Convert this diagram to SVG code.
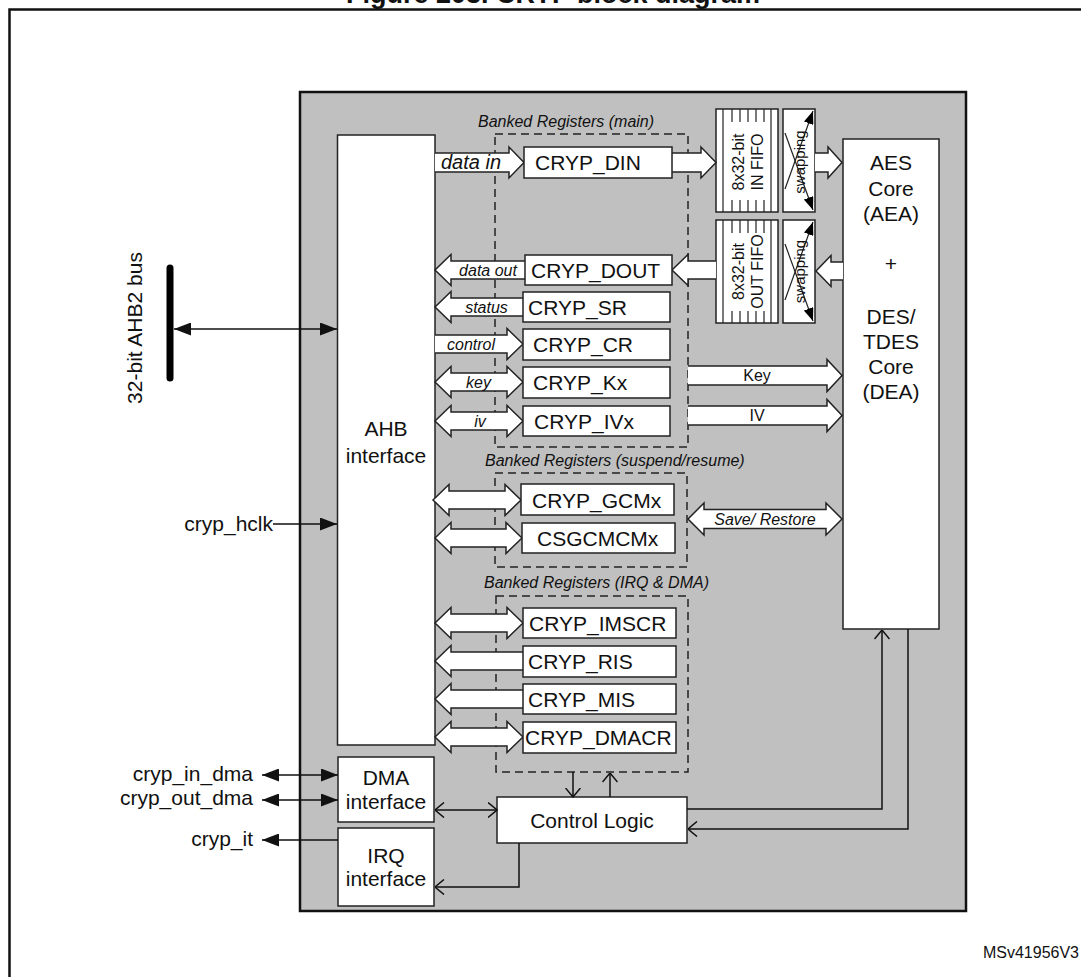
<svg xmlns="http://www.w3.org/2000/svg" width="1081" height="977" viewBox="0 0 1081 977">
<style>
text{font-family:"Liberation Sans",Arial,sans-serif;fill:#111}
.box{fill:#fff;stroke:#222;stroke-width:1.5}
.ba{fill:#fff;stroke:#222;stroke-width:1.5;stroke-linejoin:miter}
.dash{fill:none;stroke:#222;stroke-width:1.5;stroke-dasharray:8 5}
.ln{fill:none;stroke:#111;stroke-width:1.5}
.thin{fill:none;stroke:#222;stroke-width:1.2}
.reg{font-size:21px}
.lbl{font-size:21px}
.it{font-size:16px;font-style:italic}
.sm{font-size:16px}
.mid{text-anchor:middle}
.end{text-anchor:end}
.rot{font-size:16px;text-anchor:middle;dominant-baseline:central}
</style>
<defs>
<marker id="solid" viewBox="0 0 17 13" refX="17" refY="6.5" markerWidth="17" markerHeight="13" markerUnits="userSpaceOnUse" orient="auto-start-reverse"><path d="M0,0 L17,6.5 L0,13 Z" fill="#111"/></marker>
<marker id="open" viewBox="0 0 10 16" refX="9.5" refY="8" markerWidth="10" markerHeight="16" markerUnits="userSpaceOnUse" orient="auto-start-reverse"><path d="M0.5,0.5 L9.5,8 L0.5,15.5" fill="none" stroke="#111" stroke-width="1.5"/></marker>
<marker id="swp" viewBox="0 0 13 10" refX="13" refY="5" markerWidth="13" markerHeight="10" markerUnits="userSpaceOnUse" orient="auto"><path d="M0,0 L13,5 L0,10 Z" fill="#000"/></marker>
</defs>
<rect width="1081" height="977" fill="#fff"/>
<text x="553" y="2.5" class="mid" style="font-size:27px;font-weight:bold">Figure 203. CRYP block diagram</text>
<path d="M9.5,977 V9.5 H1081" fill="none" stroke="#111" stroke-width="2.5"/>

<g id="cryp-block">
<rect x="300" y="92" width="666" height="819" fill="#c0c0c0" stroke="#111" stroke-width="2.5"/>
</g>

<g id="bus-label">
<line x1="170" y1="268" x2="170" y2="378" stroke="#000" stroke-width="7" stroke-linecap="round"/>
<text transform="translate(134,328) rotate(-90)" class="rot" style="font-size:21px">32-bit AHB2 bus</text>
</g>

<g id="ahb-interface">
<rect x="337.5" y="135" width="97.5" height="610" class="box"/>
<text x="386" y="435.5" class="lbl mid">AHB</text>
<text x="386" y="462.5" class="lbl mid">interface</text>
</g>

<g id="dma-interface">
<rect x="338" y="757" width="96" height="65" class="box"/>
<text x="386" y="785" class="lbl mid">DMA</text>
<text x="386" y="809" class="lbl mid">interface</text>
</g>

<g id="irq-interface">
<rect x="338" y="828" width="96" height="78" class="box"/>
<text x="386" y="862.5" class="lbl mid">IRQ</text>
<text x="386" y="885.5" class="lbl mid">interface</text>
</g>

<g id="control-logic">
<rect x="497" y="797" width="190" height="46" class="box"/>
<text x="592" y="827.5" class="lbl mid">Control Logic</text>
</g>

<g id="core">
<rect x="843" y="139" width="96" height="490" class="box"/>
<text x="891" y="170" class="lbl mid">AES</text>
<text x="891" y="195.5" class="lbl mid">Core</text>
<text x="891" y="220.5" class="lbl mid">(AEA)</text>
<text x="891" y="270.5" class="lbl mid">+</text>
<text x="891" y="324" class="lbl mid">DES/</text>
<text x="891" y="349" class="lbl mid">TDES</text>
<text x="891" y="374" class="lbl mid">Core</text>
<text x="891" y="398.5" class="lbl mid">(DEA)</text>
</g>

<g id="in-fifo">
<rect x="716" y="109" width="62" height="103" class="box"/>
<path d="M723,109 V212 M771,109 V212 M732,109 V122 M740,109 V122 M748,109 V122 M756,109 V122 M764,109 V122 M732,200 V212 M740,200 V212 M748,200 V212 M756,200 V212 M764,200 V212" class="thin"/>
<text transform="translate(738,162) rotate(-90)" class="rot">8x32-bit</text>
<text transform="translate(757,162) rotate(-90)" class="rot">IN FIFO</text>
</g>

<g id="in-swap">
<rect x="783" y="109" width="32" height="103" class="box"/>
<line x1="785" y1="133" x2="813" y2="210" class="thin" marker-end="url(#swp)"/>
<line x1="785" y1="189" x2="813" y2="111" class="thin" marker-end="url(#swp)"/>
<text transform="translate(799,162) rotate(-90)" class="rot" style="font-size:15px">swapping</text>
</g>

<g id="out-fifo">
<rect x="716" y="220" width="62" height="103" class="box"/>
<path d="M723,220 V323 M771,220 V323 M732,220 V233 M740,220 V233 M748,220 V233 M756,220 V233 M764,220 V233 M732,311 V323 M740,311 V323 M748,311 V323 M756,311 V323 M764,311 V323" class="thin"/>
<text transform="translate(738,271.5) rotate(-90)" class="rot">8x32-bit</text>
<text transform="translate(757,271.5) rotate(-90)" class="rot">OUT FIFO</text>
</g>

<g id="out-swap">
<rect x="783" y="220" width="32" height="103" class="box"/>
<line x1="785" y1="244" x2="813" y2="321" class="thin" marker-end="url(#swp)"/>
<line x1="785" y1="300" x2="813" y2="222" class="thin" marker-end="url(#swp)"/>
<text transform="translate(799,271.5) rotate(-90)" class="rot" style="font-size:15px">swapping</text>
</g>

<g id="banked-main">
<rect x="495" y="134" width="193" height="313" class="dash"/>
<text x="478" y="126.5" class="it">Banked Registers (main)</text>
</g>
<g id="banked-suspend">
<rect x="495" y="473" width="192" height="94" class="dash"/>
<text x="485" y="466" class="it">Banked Registers (suspend/resume)</text>
</g>
<g id="banked-irq">
<rect x="496" y="596" width="192" height="176" class="dash"/>
<text x="484" y="588" class="it">Banked Registers (IRQ &amp; DMA)</text>
</g>

<g id="connectors">
<!-- block arrows -->
<path d="M435,153 H509 V147 L524,162.5 L509,178 V172 H435" class="ba"/>
<path d="M672,153 H701 V147 L716,162.5 L701,178 V172 H672" class="ba"/>
<path d="M815,153 H828 V147 L842,162.5 L828,178 V172 H815" class="ba"/>
<path d="M843,262 H831 V255.5 L816,271 L831,286.5 V280 H843" class="ba"/>
<path d="M716,261 H688 V254.5 L672,270 L688,285.5 V279 H716" class="ba"/>
<path d="M525,261 H451 V254.5 L435,270 L451,285.5 V279 H525" class="ba"/>
<path d="M523,298 H451 V291.5 L435,307 L451,322.5 V316 H523" class="ba"/>
<path d="M435,335 H507 V328.5 L523,344 L507,359.5 V353 H435" class="ba"/>
<path d="M435,382 L451,366.5 V373 H507 V366.5 L523,382 L507,397.5 V391 H451 V397.5 Z" class="ba"/>
<path d="M435,421 L451,405.5 V412 H507 V405.5 L523,421 L507,436.5 V430 H451 V436.5 Z" class="ba"/>
<path d="M688,366 H827 V359.5 L842,375.5 L827,391.5 V385 H688" class="ba"/>
<path d="M688,406 H827 V399.5 L842,415.5 L827,431.5 V425 H688" class="ba"/>
<path d="M433,500 L449,484.5 V491 H505 V484.5 L521,500 L505,515.5 V509 H449 V515.5 Z" class="ba"/>
<path d="M435,538 L451,522.5 V529 H506 V522.5 L522,538 L506,553.5 V547 H451 V553.5 Z" class="ba"/>
<path d="M688,519 L704,503 V509.5 H826 V503 L842,519 L826,535 V528.5 H704 V535 Z" class="ba"/>
<path d="M435,623 L451,607.5 V614 H507 V607.5 L523,623 L507,638.5 V632 H451 V638.5 Z" class="ba"/>
<path d="M523,652 H451 V645.5 L435,661 L451,676.5 V670 H523" class="ba"/>
<path d="M523,690 H451 V683.5 L435,699 L451,714.5 V708 H523" class="ba"/>
<path d="M435,737 L451,721.5 V728 H507 V721.5 L523,737 L507,752.5 V746 H451 V752.5 Z" class="ba"/>
<text x="441" y="168.5" style="font-size:20px;font-style:italic">data in</text>
<text x="488" y="275.5" class="it mid">data out</text>
<text x="486.5" y="312.5" class="it mid">status</text>
<text x="471" y="349.5" class="it mid">control</text>
<text x="478.5" y="387.5" class="it mid">key</text>
<text x="480" y="426.5" class="it mid">iv</text>
<text x="757" y="381" class="sm mid">Key</text>
<text x="757" y="421" class="sm mid">IV</text>
<text x="765" y="524.5" class="it mid">Save/ Restore</text>
<!-- line arrows -->
<line x1="174" y1="329" x2="337" y2="329" class="ln" marker-start="url(#solid)" marker-end="url(#solid)"/>
<line x1="273" y1="524" x2="337" y2="524" class="ln" marker-end="url(#solid)"/>
<line x1="262" y1="775" x2="338" y2="775" class="ln" marker-start="url(#solid)" marker-end="url(#solid)"/>
<line x1="262" y1="800" x2="338" y2="800" class="ln" marker-start="url(#solid)" marker-end="url(#solid)"/>
<line x1="338" y1="840" x2="262" y2="840" class="ln" marker-end="url(#solid)"/>
<line x1="435" y1="810" x2="497" y2="810" class="ln" marker-start="url(#open)" marker-end="url(#open)"/>
<polyline points="519,843 519,887 435,887" class="ln" marker-end="url(#open)"/>
<line x1="573" y1="772" x2="573" y2="797" class="ln" marker-end="url(#open)"/>
<line x1="610" y1="797" x2="610" y2="773" class="ln" marker-end="url(#open)"/>
<polyline points="687,809 882,809 882,630" class="ln" marker-end="url(#open)"/>
<polyline points="908,629 908,829 688,829" class="ln" marker-end="url(#open)"/>
</g>

<g id="registers">
<g id="reg-din"><rect x="524" y="147" width="148" height="31" class="box"/><text x="535" y="170" class="reg">CRYP_DIN</text></g>
<g id="reg-dout"><rect x="525" y="255" width="147" height="30" class="box"/><text x="531" y="277.5" class="reg">CRYP_DOUT</text></g>
<g id="reg-sr"><rect x="523" y="292" width="147" height="30" class="box"/><text x="528" y="314.5" class="reg">CRYP_SR</text></g>
<g id="reg-cr"><rect x="523" y="329" width="147" height="31" class="box"/><text x="533" y="352" class="reg">CRYP_CR</text></g>
<g id="reg-kx"><rect x="523" y="367" width="147" height="31" class="box"/><text x="533" y="390" class="reg">CRYP_Kx</text></g>
<g id="reg-ivx"><rect x="523" y="406" width="147" height="30" class="box"/><text x="534" y="428.5" class="reg">CRYP_IVx</text></g>
<g id="reg-gcmx"><rect x="521" y="484" width="153" height="31" class="box"/><text x="532" y="507.5" class="reg">CRYP_GCMx</text></g>
<g id="reg-csgcmcmx"><rect x="522" y="523" width="153" height="30" class="box"/><text x="537" y="545.5" class="reg">CSGCMCMx</text></g>
<g id="reg-imscr"><rect x="523" y="608" width="153" height="30" class="box"/><text x="529" y="630.5" class="reg">CRYP_IMSCR</text></g>
<g id="reg-ris"><rect x="523" y="646" width="153" height="31" class="box"/><text x="528" y="669" class="reg">CRYP_RIS</text></g>
<g id="reg-mis"><rect x="523" y="684" width="153" height="30" class="box"/><text x="528" y="706.5" class="reg">CRYP_MIS</text></g>
<g id="reg-dmacr"><rect x="523" y="722" width="153" height="31" class="box"/><text x="525" y="745" class="reg">CRYP_DMACR</text></g>
</g>

<g id="ext-labels">
<text x="273" y="531" class="lbl end">cryp_hclk</text>
<text x="253" y="781" class="lbl end">cryp_in_dma</text>
<text x="253" y="805" class="lbl end">cryp_out_dma</text>
<text x="253" y="846" class="lbl end">cryp_it</text>
<text x="1079" y="958" class="sm end">MSv41956V3</text>
</g>
</svg>
